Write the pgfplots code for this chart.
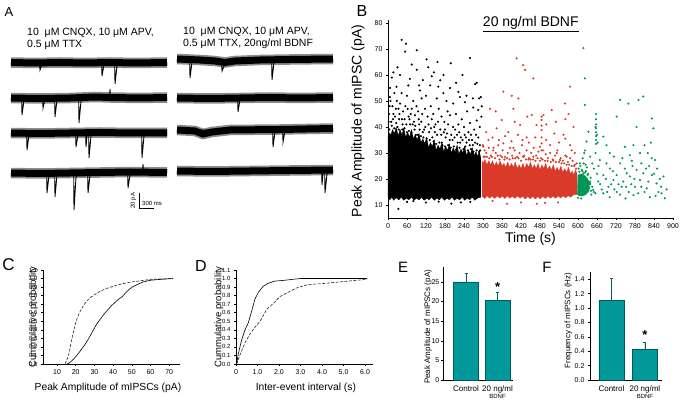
\documentclass[border=0pt]{standalone}
\usepackage{fontspec}
\setmainfont{Liberation Sans}
\usepackage{pgfplots}
\pgfplotsset{compat=1.18}

\definecolor{bdnfred}{RGB}{218,58,42}
\definecolor{recgreen}{RGB}{0,150,85}
\definecolor{barteal}{RGB}{0,152,152}
\definecolor{baredge}{RGB}{0,92,92}

\newcommand{\fs}[1]{\fontsize{#1}{#1}\selectfont}

\pgfplotsset{
  panel/.style={
    scale only axis, anchor=south west, axis lines*=left,
    tick align=outside, major tick length=2pt,
    axis line style={line width=0.7pt},
    every tick/.style={black, line width=0.5pt},
    /pgf/number format/assume math mode=true,
    clip=false,
  },
  onedec/.style={/pgf/number format/fixed, /pgf/number format/precision=1, /pgf/number format/fixed zerofill},
  band/.style={black, line width=7pt},
  fuzz/.style={black!45, line width=10.5pt},
  event/.style={black, line width=0.9pt},
  dots/.style={only marks, mark=*, mark size=0.85pt},
}

\begin{document}
\begin{tikzpicture}
\useasboundingbox (0pt,0pt) rectangle (683pt,406pt);

% ---------- overlay: panel A traces, panel letters, texts (pixel coords, y down)
\begin{axis}[at={(0pt,0pt)}, anchor=south west, scale only axis,
  width=683pt, height=406pt, xmin=0, xmax=683, ymin=0, ymax=406,
  y dir=reverse, hide axis, clip=false]
% noise envelope
\addplot[fuzz] coordinates {(11,62.5) (35,63) (60,62.5) (85,63) (110,62.5) (135,63) (167,62.5)};
\addplot[fuzz] coordinates {(11,98) (40,98.5) (70,98) (95,97) (110,97.5) (140,98) (167,97.5)};
\addplot[fuzz] coordinates {(11,133) (40,133.5) (70,133) (100,132.5) (130,133) (167,133)};
\addplot[fuzz] coordinates {(11,173) (40,173.5) (70,173) (100,172.5) (130,172) (167,172.5)};
\addplot[fuzz] coordinates {(177,59) (200,60) (215,61) (225,62.5) (235,61) (260,60) (290,59.5) (333,59)};
\addplot[fuzz] coordinates {(177,98) (210,98.5) (240,98) (270,97.5) (300,98) (333,97.5)};
\addplot[fuzz] coordinates {(177,130) (195,131) (203,134) (212,132) (230,130) (280,129.5) (333,128.5)};
\addplot[fuzz] coordinates {(177,171) (210,171.5) (250,171) (290,170.5) (333,170)};
% bands
\addplot[band] coordinates {(11,62.5) (35,63) (60,62.5) (85,63) (110,62.5) (135,63) (167,62.5)};
\addplot[band] coordinates {(11,98) (40,98.5) (70,98) (95,97) (110,97.5) (140,98) (167,97.5)};
\addplot[band] coordinates {(11,133) (40,133.5) (70,133) (100,132.5) (130,133) (167,133)};
\addplot[band] coordinates {(11,173) (40,173.5) (70,173) (100,172.5) (130,172) (167,172.5)};
\addplot[band] coordinates {(177,59) (200,60) (215,61) (225,62.5) (235,61) (260,60) (290,59.5) (333,59)};
\addplot[band] coordinates {(177,98) (210,98.5) (240,98) (270,97.5) (300,98) (333,97.5)};
\addplot[band] coordinates {(177,130) (195,131) (203,134) (212,132) (230,130) (280,129.5) (333,128.5)};
\addplot[band] coordinates {(177,171) (210,171.5) (250,171) (290,170.5) (333,170)};
% events
\addplot[event] coordinates {(11,63) (39.7,63) (40,70) (42,64) (45,63) (101.7,63) (102,76) (104,64.5) (107,63) (114.7,63) (115,84) (117,66) (121,63.5) (167,63)};
\addplot[event] coordinates {(11,98) (21.7,98) (22,115) (24,100) (27,98) (42.7,98) (43,108) (45,99.5) (48,98) (54.7,98) (55,117) (57,100) (60,98) (78.7,98) (79,123) (81,101) (85,98) (109.7,98) (110,89) (110.5,98) (167,98)};
\addplot[event] coordinates {(11,133) (26.7,133) (27,150) (29,135) (32,133) (75.7,133) (76,147) (78,135) (81,133) (85.7,133) (86,147) (87,135) (88.7,133) (89,158) (91,136) (95,133) (141.7,133) (142,158) (144,136) (148,133) (167,133)};
\addplot[event] coordinates {(11,173) (46.7,173) (47,193) (49,175) (52,173) (54.7,173) (55,197) (57,175) (60,173) (73.7,173) (74,210) (76,177) (80,173) (87.7,173) (88,193) (90,175) (93,173) (127.7,173) (128,188) (130,175) (133,173) (142.7,173) (143,164) (143.5,173) (167,173)};
\addplot[event] coordinates {(177,60) (189.7,60) (190,78) (192,62) (195,60) (221.7,61) (222,71) (225,64) (230,62) (271.7,60) (272,80) (274,62) (277,60) (333,59)};
\addplot[event] coordinates {(177,98) (237.7,98) (238,112) (240,100) (243,98) (333,98)};
\addplot[event] coordinates {(177,130) (272.7,130) (273,147) (275,132) (278,130) (282.7,130) (283,142) (285,131) (288,130) (333,128.5)};
\addplot[event] coordinates {(177,171) (321.7,171) (322,185) (323,173) (324.7,171) (325,193) (327,174) (329,171) (333,170)};
% scale bar
\addplot[black, line width=0.8pt] coordinates {(139,193) (139,208) (154,208)};
\node[rotate=90, font=\fs{6}, inner sep=0] at (axis cs:133.5,200.5) {20 pA};
\node[anchor=west, font=\fs{6}, inner sep=0] at (axis cs:142,203) {300 ms};
% texts
\node[anchor=base west, font=\fs{10.5}, inner sep=0] at (axis cs:27,36) {10~~μM CNQX, 10 μM APV,};
\node[anchor=base west, font=\fs{10.5}, inner sep=0] at (axis cs:27,48) {0.5 μM TTX};
\node[anchor=base west, font=\fs{10.5}, inner sep=0] at (axis cs:183,35) {10~~μM CNQX, 10 μM APV,};
\node[anchor=base west, font=\fs{10.5}, inner sep=0] at (axis cs:183,47) {0.5 μM TTX, 20ng/ml BDNF};
% panel letters
\node[font=\fs{13}, inner sep=0] at (axis cs:9,12.5) {A};
\node[font=\fs{16}, inner sep=0] at (axis cs:362,11) {B};
\node[font=\fs{17}, inner sep=0] at (axis cs:8.5,265) {C};
\node[font=\fs{16}, inner sep=0] at (axis cs:201,266) {D};
\node[font=\fs{15}, inner sep=0] at (axis cs:403,267) {E};
\node[font=\fs{15}, inner sep=0] at (axis cs:547,267.5) {F};
\end{axis}

% ---------- B: scatter of mIPSC amplitudes
\begin{axis}[panel, at={(388pt,188pt)}, width=285pt, height=198pt,
  xmin=0, xmax=900, ymin=5, ymax=81.15,
  xtick={0,60,...,900}, ytick={10,20,...,80},
  tick label style={font=\fs{7}},
  xlabel={Time (s)}, ylabel={Peak Amplitude of mIPSC (pA)},
  xlabel style={font=\fs{14}, at={(axis description cs:0.5,-0.106)}, anchor=center},
  ylabel style={font=\fs{14}, at={(axis description cs:-0.105,0.49)}, anchor=center}]
% dense cores of the three recording periods
\addplot[fill=black, draw=black, line width=0.3pt] coordinates {
(0,13) (6,12) (12,13) (18,11.8) (26,12.8) (34,12) (42,13) (50,11.8) (58,12.6) (66,12) (74,13) (82,11.8) (90,12.6) (98,12) (106,13) (114,11.8) (122,12.6) (130,12) (138,13) (146,11.8) (154,12.6) (162,12) (170,13) (178,11.8) (186,12.6) (194,12) (202,13) (210,11.8) (218,12.6) (226,12) (234,13) (242,11.8) (250,12.6) (258,12) (266,13) (274,11.8) (282,12.6) (293,13)
(293,28) (288,31) (283,28.5) (278,30.5) (272,29) (266,32) (260,29.5) (254,31) (248,29) (242,32.5) (236,30) (230,31.5) (224,29.5) (218,33) (212,30.5) (206,32) (200,30) (194,33.5) (188,31) (182,32.5) (176,30.5) (170,34) (164,31.5) (158,33) (152,31) (146,35) (140,32.5) (134,34) (128,32) (122,36) (116,33.5) (110,35.5) (104,34) (98,37.5) (92,35) (86,37) (80,35.5) (74,39) (68,36) (62,38) (56,36) (50,39.5) (44,37) (38,39) (32,36.5) (26,40) (20,37.5) (14,39) (8,36.5) (3,38) (0,36) (0,13)};
\addplot[fill=bdnfred, draw=bdnfred, line width=0.3pt] coordinates {
(297,13.5) (305,12.5) (313,13.5) (321,12.6) (329,13.4) (337,12.5) (345,13.5) (353,12.6) (361,13.4) (369,12.5) (377,13.5) (385,12.6) (393,13.4) (401,12.5) (409,13.5) (417,12.6) (425,13.4) (433,12.3) (441,13.3) (449,12.4) (457,13.3) (465,12.3) (473,13.2) (481,12.4) (489,13.3) (497,12.5) (505,13.5) (513,12.6) (521,13.4) (529,12.6) (537,13.5) (545,12.7) (553,13.5) (561,12.8) (569,13.6) (577,13) (587,14) (597,14)
(597,22) (592,23.5) (587,21.5) (582,23) (576,22) (570,24.5) (564,22.5) (558,24) (552,22.5) (546,25) (540,23) (534,24.5) (528,23) (522,25.5) (516,23.5) (510,25) (504,23.5) (498,26) (492,24) (486,25.5) (480,23.5) (474,26) (468,24) (462,25.5) (456,24) (450,26.5) (444,24.5) (438,26) (432,24) (426,26) (420,24) (414,25.5) (408,24) (402,26.5) (396,24.5) (390,26) (384,24.5) (378,26.5) (372,24.5) (366,26) (360,25) (354,27) (348,25) (342,26.5) (336,25) (330,27) (324,25.5) (318,27) (312,25.5) (306,27.5) (300,26) (297,27) (297,13.5)};
\addplot[fill=recgreen, draw=recgreen, line width=0.3pt] coordinates {
(598,14) (605,13.5) (615,13.5) (625,14) (633,15) (637,16.5) (635,19) (628,20.5) (620,21.5) (610,22) (600,21.5) (598,14)};
\addplot[dots, black] coordinates {
(43,73.5) (57,72) (54,69) (91,69.5) (122,66) (156,65) (198,64.5) (259,66.5) (17,61) (38,60) (69,58.5) (91,62) (127,63) (175,60) (138,59.5) (280,57) (293,51.5) (275,56.5) (6,55) (27,55.5) (64,56) (101,54) (133,56) (159,55.5) (196,55) (222,53.5) (227,51.5) (248,52) (6,51.5) (43,53) (80,50) (106,51) (154,51) (185,50) (206,49) (243,49.5) (12,59) (30,63) (75,64) (110,58) (145,61) (165,58) (215,57) (235,60) (268,51) (288,51) (120,52) (60,52) (20,53) (98,56) (175,53)
(269,47.5) (285,46.5) (17,45) (48,46) (85,44.5) (117,47) (143,45) (169,44) (196,44.5) (233,43) (259,41.5) (280,42.5) (5,48) (25,47) (35,43) (55,48) (65,44) (75,47) (95,46) (105,42) (125,44) (135,48) (150,41) (160,47) (178,42) (188,46) (205,40) (215,45) (225,38) (240,40) (250,46) (262,37) (272,39) (290,40) (10,42) (30,40) (45,39) (60,38) (70,41) (88,37) (100,39) (112,36) (130,38) (140,36) (155,37) (165,39) (182,36) (195,35) (210,36) (220,34) (235,35) (248,34) (258,33) (275,34) (285,36) (8,37) (40,36) (50,35) (80,35) (92,34) (120,34) (170,34)
(3,45) (8,50) (14,48) (22,44) (28,50) (33,47) (38,49) (52,43) (62,47) (72,45) (82,42) (90,48) (97,43) (108,45) (118,40) (128,41) (138,43) (148,38) (158,42) (168,37) (180,39) (190,41) (200,37) (212,39) (222,41) (230,36) (242,37) (254,38) (265,35) (278,37) (290,33) (295,44) (296,48)
(4,39) (12,40.5) (20,39.5) (26,41.5) (34,39) (46,41) (52,39.5) (58,41) (66,38.5) (74,38) (84,39) (94,37) (104,36.5) (110,38) (122,35.5) (132,35) (144,34.5) (152,33.5) (162,34) (172,33) (180,32.5) (190,33) (198,32) (208,32.5) (216,31.5) (226,32) (238,31.5) (244,32.5) (252,31) (262,31.5) (270,30.5) (280,31) (288,30.5) (291,31)
(2,42) (16,43) (36,45) (44,43) (68,43) (78,41) (86,40.5) (98,41) (114,39) (136,39.5) (146,40) (176,38) (186,37.5) (204,35) (218,37) (228,34) (246,36) (256,35) (268,33) (282,33.5)
(33,8.5) (120,11) (80,11.5) (200,10.5) (230,11) (160,11.3) (60,11.2) (260,11.2)};
\addplot[dots, bdnfred] coordinates {
(300,33) (305,31) (310,30) (318,32) (325,29) (332,31) (340,30) (348,33) (355,29) (362,31) (370,28.5) (378,30) (385,32) (392,29) (400,31) (408,28.5) (415,30) (423,33) (430,29) (438,31) (445,28) (452,30) (460,32) (468,29) (475,30.5) (483,28) (490,31) (498,29.5) (505,28) (512,30) (520,27.5) (528,29) (535,31) (545,28) (552,27) (560,29) (568,26.5) (575,28) (583,27) (590,25.5)
(302,28.5) (312,28.5) (320,28) (328,28.5) (338,28) (346,29) (352,27.5) (360,28.5) (368,27.5) (376,28) (384,27.5) (394,28) (402,28) (412,28) (420,27) (428,28.5) (436,27.5) (444,27.5) (450,27.5) (458,27.5) (466,27) (472,28) (480,27) (488,27.5) (496,27) (504,27) (514,26.5) (522,27) (530,26.5) (540,26.5) (548,26) (556,26) (564,25.5) (572,25.5) (580,25) (588,25) (594,24)
(322,47) (396,47) (359,42.7) (417,40.8) (454,44.6) (491,44.6) (517,46.5) (586,40) (554,37) (469,40.8) (485,42.7) (343,39.5) (380,38) (317,35) (438,36) (480,32.4) (512,33) (533,30) (333,32) (364,33.7) (396,32) (485,38.8) (485,36) (485,33.7) (485,31) (485,40.5) (485,44) (301,32.4) (306,28.6) (427,28.6) (459,28.6) (564,28.6) (580,31) (543,27.3) (596,26) (310,38) (330,36) (350,35) (370,36.5) (390,34.5) (410,37) (425,35) (445,34) (465,36) (500,35) (525,37.5) (540,34) (560,35.5) (575,33) (590,30) (400,42) (440,44) (500,41) (530,42) (560,43)
(406,66.4) (427,63.8) (433,62) (459,58.7) (575,55.5) (559,49) (391,52) (364,53.6) (412,51) (340,46) (570,45)
(376,10.5) (470,10.5) (496,10.8) (537,11) (420,11) (330,11.5)};
\addplot[dots, recgreen] coordinates {
(602,24) (608,25) (612,23.5) (618,26) (625,23) (632,22) (640,20.5) (645,17) (650,15) (655,14.5) (642,14) (615,28) (620,30) (628,24.5) (636,18.5) (600,12.8) (610,12.5)
(604,22.8) (614,23) (622,22.5) (630,21.5) (639,18) (641,15.5) (606,26) (624,25.5)
(657,45) (657,43) (657,41) (657,39.5) (657,38) (657,36.5) (657,35) (657,33.5) (660,37) (655,40) (662,34)
(617,70.3) (622,58.7) (622,48.5) (633,38.2) (627,34.4) (680,36.3) (722,44) (733,50.4) (759,49) (791,50.4) (806,51.7) (785,40) (833,43.3) (838,39.5) (796,30) (764,29.2) (748,32.4) (622,31) (638,28.6) (713,28.6) (833,28) (843,27.3) (669,27.3) (617,22.2) (680,21.5) (701,24) (722,21.5) (733,26) (743,19) (764,21) (780,17) (796,19.6) (806,22.2) (822,19) (833,21.5) (848,18.3) (854,15) (874,12.6) (864,14.5) (827,13) (775,13.8) (722,15) (680,14.5) (648,15.8) (638,19) (696,17) (738,17) (754,22.2) (785,23.5) (712,19.6) (664,19) (817,16.4)
(660,22) (670,18) (675,16) (688,20) (692,15) (705,18) (710,23) (715,16) (728,18) (733,14) (748,24) (752,17) (760,15) (768,18) (772,25) (778,20) (790,14.5) (800,17) (810,15) (815,24) (825,25) (840,22) (850,24) (858,20) (862,17) (870,21) (880,16) (845,13.5) (700,13) (750,12.5) (690,26) (770,27) (800,26) (655,30) (645,26) (650,24) (665,25) (810,33) (820,30) (830,34) (775,33) (740,28) (700,30) (690,33)};
\node[anchor=base, font=\fs{14}, inner sep=0] at (axis cs:451,78.5) {\underline{20 ng/ml BDNF}};
\end{axis}

% ---------- C: cumulative amplitude
\begin{axis}[panel, at={(43pt,42pt)}, width=137pt, height=94pt,
  xmin=2.5, xmax=75.8, ymin=0, ymax=1.1,
  xtick={10,20,...,70}, ytick={0,0.1,0.2,0.3,0.4,0.5,0.6,0.7,0.8,0.9,1.0,1.1},
  xticklabel style={font=\fs{7}}, yticklabel style={font=\fs{6}, onedec},
  xlabel={Peak Amplitude of mIPSCs (pA)}, ylabel={Cummulative probability},
  xlabel style={font=\fs{10.3}, at={(axis description cs:0.474,-0.255)}, anchor=center},
  ylabel style={font=\fs{9.5}, at={(axis description cs:-0.07,0.5)}, anchor=center}]
\addplot[black!85, line width=0.6pt, dash pattern=on 3pt off 1.5pt] coordinates {
(14.3,0) (15.5,0.06) (16.5,0.13) (17.5,0.25) (18.5,0.35) (19.5,0.44) (20.5,0.52) (22,0.6) (24,0.68) (26,0.74) (28,0.78) (30,0.81) (33,0.85) (36,0.88) (40,0.91) (45,0.94) (50,0.96) (55,0.975) (60,0.99) (65,0.995) (72,1.0)};
\addplot[black, line width=0.6pt] coordinates {
(15.5,0) (17,0.02) (19,0.06) (21,0.11) (23,0.17) (25,0.23) (27,0.3) (29,0.38) (31,0.46) (33,0.52) (35,0.58) (37,0.63) (39,0.68) (41,0.72) (43,0.76) (45,0.79) (47,0.84) (49,0.88) (51,0.91) (53,0.93) (56,0.96) (60,0.98) (65,0.99) (72,1.0)};
\end{axis}

% ---------- D: cumulative inter-event interval
\begin{axis}[panel, at={(236pt,42pt)}, width=137pt, height=94pt,
  xmin=0, xmax=6.37, ymin=0, ymax=1.1,
  xtick={0,1,2,3,4,5,6}, xticklabels={0,1.0,2.0,3.0,4.0,5.0,6.0},
  ytick={0,0.1,0.2,0.3,0.4,0.5,0.6,0.7,0.8,0.9,1.0,1.1},
  xticklabel style={font=\fs{7}}, yticklabel style={font=\fs{6}, onedec},
  xlabel={Inter-event interval (s)}, ylabel={Cummulative probability},
  xlabel style={font=\fs{10.3}, at={(axis description cs:0.51,-0.255)}, anchor=center},
  ylabel style={font=\fs{9.5}, at={(axis description cs:-0.125,0.5)}, anchor=center}]
\addplot[black, line width=0.6pt] coordinates {
(0.03,0) (0.1,0.11) (0.26,0.28) (0.42,0.4) (0.57,0.48) (0.73,0.62) (0.88,0.76) (1.04,0.84) (1.27,0.91) (1.5,0.945) (1.81,0.97) (2.28,0.98) (2.6,0.99) (3.0,1.0) (6.1,1.0)};
\addplot[black!85, line width=0.6pt, dash pattern=on 3pt off 1.5pt] coordinates {
(0.03,0) (0.19,0.11) (0.42,0.25) (0.65,0.35) (0.88,0.43) (1.12,0.5) (1.43,0.64) (1.74,0.71) (2.05,0.79) (2.43,0.84) (2.82,0.89) (3.36,0.93) (3.99,0.94) (4.6,0.955) (5.22,0.97) (5.85,0.985) (6.1,0.99)};
\end{axis}

% ---------- E: mean amplitude
\begin{axis}[panel, at={(443pt,26pt)}, width=70pt, height=113pt,
  xmin=0.27, xmax=2.49, ymin=0, ymax=28.8,
  xtick={1,2}, xticklabels={Control, {20 ng/ml\\[-1pt]{\fs{6}BDNF}}},
  xticklabel style={font=\fs{8}, align=center}, x tick style={draw=none},
  ytick={0,5,...,25}, yticklabel style={font=\fs{7}, inner xsep=1.5pt},
  ylabel={Peak Amplitude of mIPSCs (pA)},
  ylabel style={font=\fs{8}, at={(axis description cs:-0.215,0.47)}, anchor=center}]
\addplot[ybar, bar width=25pt, fill=barteal, draw=baredge, line width=0.6pt,
  error bars/.cd, y dir=plus, y explicit,
  error bar style={baredge, line width=0.8pt},
  error mark options={rotate=90, mark size=1.5pt, baredge}]
  coordinates {(1,25.0) +- (0,2.1) (2,20.3) +- (0,2.0)};
\node[font=\fs{13}\bfseries, inner sep=0] at (axis cs:2,23.6) {*};
\end{axis}

% ---------- F: mean frequency
\begin{axis}[panel, at={(590pt,26pt)}, width=72pt, height=108pt,
  xmin=0.36, xmax=2.51, ymin=0, ymax=1.5,
  xtick={1,2}, xticklabels={Control, {20 ng/ml\\[-1pt]{\fs{6}BDNF}}},
  xticklabel style={font=\fs{8}, align=center}, x tick style={draw=none},
  ytick={0,0.2,0.4,0.6,0.8,1.0,1.2,1.4},
  yticklabel style={font=\fs{7}, onedec},
  ylabel={Frequency of mIPSCs (Hz)},
  ylabel style={font=\fs{8}, at={(axis description cs:-0.3,0.55)}, anchor=center}]
\addplot[ybar, bar width=25pt, fill=barteal, draw=baredge, line width=0.6pt,
  error bars/.cd, y dir=plus, y explicit,
  error bar style={baredge, line width=0.8pt},
  error mark options={rotate=90, mark size=1.5pt, baredge}]
  coordinates {(1,1.10) +- (0,0.31) (2,0.42) +- (0,0.11)};
\node[font=\fs{13}\bfseries, inner sep=0] at (axis cs:2,0.63) {*};
\end{axis}
\end{tikzpicture}
\end{document}
